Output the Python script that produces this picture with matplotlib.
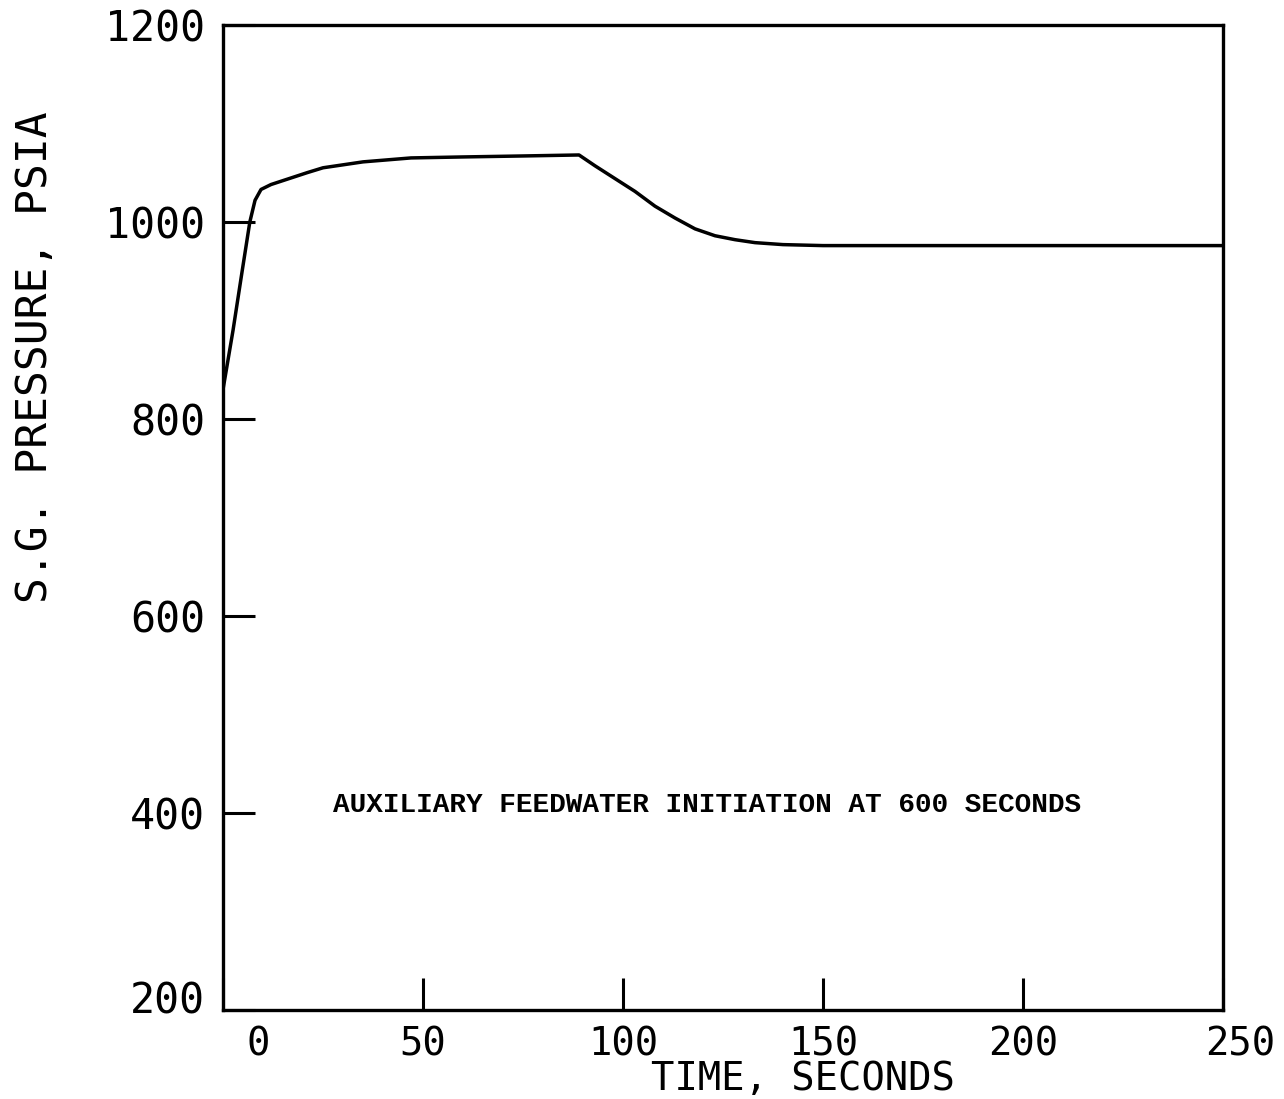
"""
S.G. pressure transient after auxiliary feedwater initiation
"""

import matplotlib

matplotlib.use("Agg")
import matplotlib.pyplot as plt
import matplotlib.transforms as mtransforms

# curve
time_s = [0, 2.5, 4.7, 6.7, 8, 9.5, 12, 15, 18, 21, 25, 35, 47, 60, 75, 89,
          93, 98, 103, 108, 113, 118, 123, 128, 133, 140, 150, 250]
pressure_psia = [830, 890, 948, 1000, 1022, 1033, 1038, 1042, 1046, 1050, 1055,
                 1061, 1065, 1066, 1067, 1068, 1057, 1044, 1031, 1016, 1004, 993,
                 986, 982, 979, 977, 976, 976]

x_ticks = [0, 50, 100, 150, 200, 250]
y_ticks = [200, 400, 600, 800, 1000, 1200]
note = "AUXILIARY FEEDWATER INITIATION AT 600 SECONDS"

plot_font = "DejaVu Sans Mono"

fig = plt.figure(figsize=(12.84, 10.99), dpi=100)
ax = fig.add_axes([0.1737, 0.0810, 0.7788, 0.8963])

ax.plot(time_s, pressure_psia, color="black", linewidth=2.5, solid_joinstyle="round")

ax.set_xlim(0, 250)
ax.set_ylim(200, 1200)
for spine in ax.spines.values():
    spine.set_linewidth(2.4)

ax.set_xticks(x_ticks)
ax.set_yticks(y_ticks)
ax.set_xticklabels([str(v) for v in x_ticks], fontfamily=plot_font, fontsize=28)
ax.set_yticklabels([str(v) for v in y_ticks], fontfamily=plot_font, fontsize=30)
ax.tick_params(axis="both", direction="in", length=23, width=2.2, color="black")
ax.tick_params(axis="x", pad=11)
ax.tick_params(axis="y", pad=13)

# the plotter nudged a few labels off their ticks
xlabels = ax.get_xticklabels()
xlabels[0].set_transform(xlabels[0].get_transform()
                         + mtransforms.ScaledTranslation(0.35, 0, fig.dpi_scale_trans))
xlabels[-1].set_transform(xlabels[-1].get_transform()
                          + mtransforms.ScaledTranslation(0.17, 0, fig.dpi_scale_trans))
ylabels = ax.get_yticklabels()
ylabels[0].set_transform(ylabels[0].get_transform()
                         + mtransforms.ScaledTranslation(0, 0.13, fig.dpi_scale_trans))

ax.text(121, 408, note, fontfamily="Liberation Mono", fontweight="bold",
        fontsize=20, ha="center", va="center")

fig.text(803 / 1284, 1 - 1090 / 1099, "TIME, SECONDS", fontfamily=plot_font,
         fontsize=28, ha="center", va="baseline")
fig.text(35 / 1284, 1 - 357 / 1099, "S.G. PRESSURE, PSIA", fontfamily=plot_font,
         fontsize=31, ha="center", va="center", rotation=90)

fig.savefig("out.png", dpi=100)
plt.close(fig)
